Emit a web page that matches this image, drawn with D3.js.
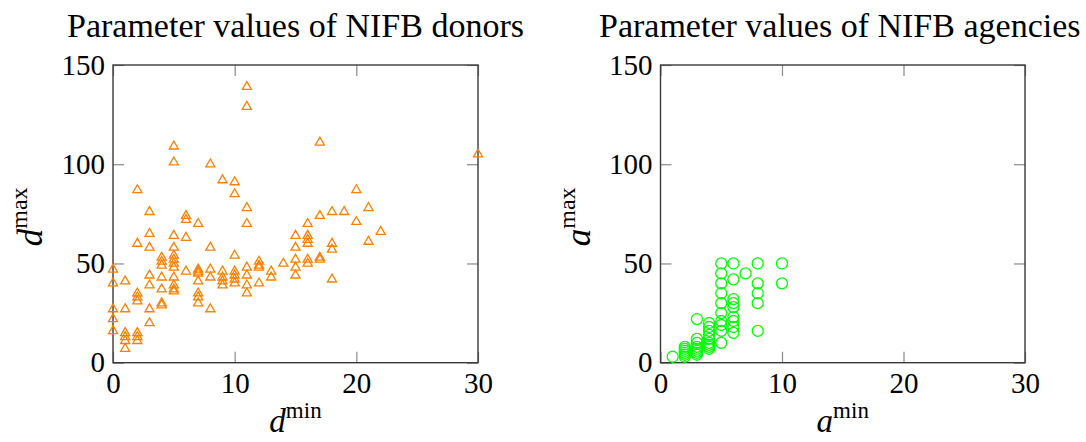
<!DOCTYPE html>
<html>
<head>
<meta charset="utf-8">
<script src="https://cdn.jsdelivr.net/npm/d3@7"></script>
<style>
  html, body { margin: 0; padding: 0; background: #fff; }
  svg { display: block; }
</style>
</head>
<body>
<svg id="chart" width="1086" height="442"></svg>
<script>
// ---------- data ----------
const donorMin = [
  0,0,0,0,0,
  1,1,1,1,1,1,
  2,2,2,2,2,2,2,2,
  3,3,3,3,3,3,3,
  4,4,4,4,4,4,4,
  5,5,5,5,5,5,5,5,5,5,5,5,
  6,6,6,6,
  7,7,7,7,7,7,7,7,
  8,8,8,8,8,
  9,9,9,9,9,
  10,10,10,10,10,10,10,
  11,11,11,11,11,11,11,11,
  12,12,12,12,
  13,13,
  14,
  15,15,15,15,15,
  16,16,16,16,16,16,
  17,17,17,17,
  18,18,18,18,
  19,
  20,20,
  21,21,
  22,
  30
];
const donorMax = [
  47,40,27,22,16,
  41,27,15,13,11,7,
  87,60,35,33,31,15,13,11,
  76,65,58,44,39,27,20,
  53,51,49,43,37,30,29,
  109,101,64,58,54,52,50,48,43,39,37,36,
  74,72,63,46,
  70,47,46,45,41,35,33,30,
  100,58,47,43,27,
  92,46,43,41,39,
  91,85,54,46,44,42,40,
  139,129,78,70,48,44,39,35,
  51,49,48,40,
  46,43,
  50,
  64,58,52,48,44,
  70,64,62,60,52,50,
  111,74,53,52,
  76,60,57,42,
  76,
  87,71,
  78,61,
  66,
  105
];
const agencyMin = [
  1,
  2,2,2,2,2,2,
  3,3,3,3,3,3,3,3,
  4,4,4,4,4,4,4,4,4,
  5,5,5,5,5,5,5,5,5,5,
  6,6,6,6,6,6,6,6,6,
  7,
  8,8,8,8,8,
  10,10
];
const agencyMax = [
  3,
  8,7,6,5,4,3,
  22,12,10,8,7,6,5,4,
  20,18,16,14,12,10,9,8,7,
  50,45,40,35,30,25,21,19,16,10,
  50,42,32,30,28,23,21,18,15,
  45,
  50,40,35,30,16,
  50,40
];
const xTicks = [0, 10, 20, 30];
const yTicks = [0, 50, 100, 150];
const titles = ["Parameter values of NIFB donors", "Parameter values of NIFB agencies"];
const xLabelBase = ["d", "a"];
const xLabelSup = ["min", "min"];
const yLabelSup = ["max", "max"];

// ---------- layout ----------
const FONT = "Liberation Serif";
const svg = d3.select("#chart");
const panels = [
  { left: 113, right: 478, color: "#ff8000", xs: donorMin, ys: donorMax, mark: "triangle", titleShift: 0 },
  { left: 660.5, right: 1025, color: "#00ff00", xs: agencyMin, ys: agencyMax, mark: "circle", titleShift: -3 }
];
const plotTop = 65, plotBottom = 362.7;
const tickFs = 29;

panels.forEach((p, i) => {
  const x = d3.scaleLinear().domain([0, 30]).range([p.left, p.right]);
  const y = d3.scaleLinear().domain([0, 150]).range([plotBottom, plotTop]);
  const g = svg.append("g");

  const tickCol = "#8a8a8a";
  const styleAxis = sel => {
    sel.attr("font-family", FONT).attr("font-size", tickFs);
    sel.select(".domain").remove();
    sel.selectAll(".tick line").attr("stroke", tickCol).attr("stroke-width", 1.2);
    sel.selectAll(".tick text").attr("fill", "#000").attr("font-family", FONT);
  };
  g.append("g").attr("transform", `translate(0,${plotBottom})`)
    .call(d3.axisBottom(x).tickValues(xTicks).tickSizeInner(-11).tickSizeOuter(0).tickPadding(10).tickFormat(d3.format("d")))
    .call(styleAxis);
  g.append("g").attr("transform", `translate(0,${plotTop})`)
    .call(d3.axisTop(x).tickValues(xTicks).tickSizeInner(-11).tickSizeOuter(0).tickFormat(""))
    .call(styleAxis);
  g.append("g").attr("transform", `translate(${p.left},0)`)
    .call(d3.axisLeft(y).tickValues(yTicks).tickSizeInner(-11).tickSizeOuter(0).tickPadding(8).tickFormat(d3.format("d")))
    .call(styleAxis);
  g.append("g").attr("transform", `translate(${p.right},0)`)
    .call(d3.axisRight(y).tickValues(yTicks).tickSizeInner(-11).tickSizeOuter(0).tickFormat(""))
    .call(styleAxis);

  g.append("rect")
    .attr("x", x(0)).attr("y", y(150))
    .attr("width", x(30) - x(0)).attr("height", y(0) - y(150))
    .attr("fill", "none").attr("stroke", "#3a3a3a").attr("stroke-width", 1.4);

  const data = p.xs.map((v, k) => [v, p.ys[k]]);
  if (p.mark === "triangle") {
    const sym = d3.symbol().type(d3.symbolTriangle).size(36);
    g.append("g").selectAll("path").data(data).join("path")
      .attr("d", sym)
      .attr("transform", d => `translate(${x(d[0])},${y(d[1])})`)
      .attr("fill", "none").attr("stroke", p.color).attr("stroke-width", 1.3);
  } else {
    g.append("g").selectAll("circle").data(data).join("circle")
      .attr("cx", d => x(d[0])).attr("cy", d => y(d[1])).attr("r", 5.5)
      .attr("fill", "none").attr("stroke", p.color).attr("stroke-width", 1.3);
  }

  const cx = (p.left + p.right) / 2;
  g.append("text").attr("x", cx + p.titleShift).attr("y", 37)
    .attr("text-anchor", "middle").attr("font-family", FONT).attr("font-size", 34)
    .text(titles[i]);

  const xl = g.append("text").attr("x", cx).attr("y", 432)
    .attr("text-anchor", "middle").attr("font-family", FONT).attr("font-size", 33);
  xl.append("tspan").attr("font-style", "italic").text(xLabelBase[i]);
  xl.append("tspan").attr("dy", -14).attr("font-size", 23).text(xLabelSup[i]);

  const yl = g.append("text")
    .attr("transform", `translate(${p.left - 71},${(plotTop + plotBottom) / 2 + 3}) rotate(-90)`)
    .attr("text-anchor", "middle").attr("font-family", FONT).attr("font-size", 35);
  yl.append("tspan").attr("font-style", "italic").text(xLabelBase[i]);
  yl.append("tspan").attr("dy", -15).attr("font-size", 24).text(yLabelSup[i]);
});
</script>
</body>
</html>
